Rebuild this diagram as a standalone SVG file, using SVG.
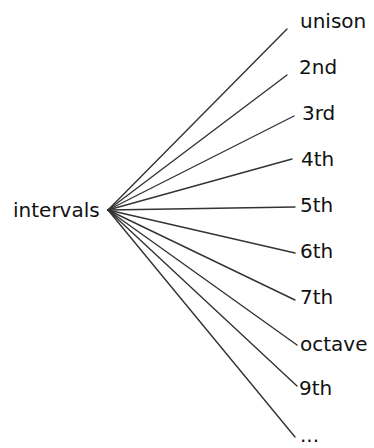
<svg xmlns="http://www.w3.org/2000/svg" width="374" height="448" viewBox="0 0 374 448">
<style>
text{font-family:"DejaVu Sans",Verdana,sans-serif;font-size:20px;fill:#111}
.c line{stroke:#333;stroke-width:1.4;stroke-linecap:round}
</style>
<rect width="374" height="448" fill="#fff"/>
<g class="c" id="connectors">
<line x1="108" y1="210" x2="287" y2="29"/>
<line x1="108" y1="210" x2="287" y2="75"/>
<line x1="108" y1="210" x2="294" y2="116"/>
<line x1="108" y1="210" x2="292" y2="159"/>
<line x1="108" y1="210" x2="295" y2="207"/>
<line x1="108" y1="210" x2="295" y2="253"/>
<line x1="108" y1="210" x2="295" y2="300"/>
<line x1="108" y1="210" x2="297" y2="345"/>
<line x1="108" y1="210" x2="297" y2="386"/>
<line x1="108" y1="210" x2="295" y2="437"/>
</g>
<g id="intervals"><text x="13" y="217">intervals</text></g>
<g id="unison"><text x="300" y="28">unison</text></g>
<g id="n2nd"><text x="299" y="74">2nd</text></g>
<g id="n3rd"><text x="302" y="120">3rd</text></g>
<g id="n4th"><text x="301" y="166">4th</text></g>
<g id="n5th"><text x="300" y="212">5th</text></g>
<g id="n6th"><text x="300" y="258">6th</text></g>
<g id="n7th"><text x="300" y="304">7th</text></g>
<g id="octave"><text x="300" y="351">octave</text></g>
<g id="n9th"><text x="299" y="395">9th</text></g>
<g id="more"><text x="300" y="442">...</text></g>
</svg>
